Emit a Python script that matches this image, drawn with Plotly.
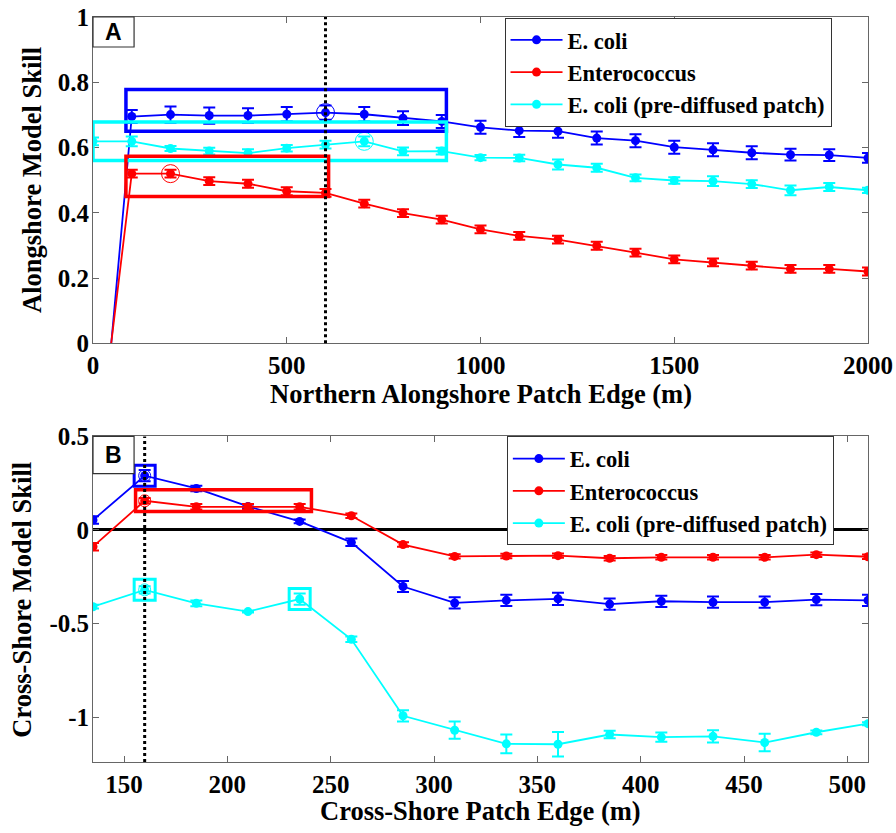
import plotly.graph_objects as go

# ---------------- data: panel A (alongshore) ----------------
xA = [0, 100, 200, 300, 400, 500, 600, 700, 800, 900, 1000,
      1100, 1200, 1300, 1400, 1500, 1600, 1700, 1800, 1900, 2000]
ecoliA = [-0.62, 0.695, 0.701, 0.698, 0.698, 0.702, 0.707, 0.702, 0.690, 0.680, 0.662,
          0.652, 0.650, 0.629, 0.621, 0.601, 0.593, 0.584, 0.578, 0.577, 0.568]
ecoliA_err = [0.02, 0.02, 0.025, 0.025, 0.022, 0.022, 0.022, 0.022, 0.021, 0.02, 0.02,
              0.02, 0.02, 0.02, 0.02, 0.02, 0.02, 0.02, 0.018, 0.018, 0.015]
enteroA = [-0.46, 0.520, 0.520, 0.497, 0.489, 0.466, 0.461, 0.428, 0.399, 0.379, 0.349,
           0.329, 0.318, 0.299, 0.278, 0.257, 0.248, 0.238, 0.228, 0.228, 0.220]
enteroA_err = [0.012] * 21
predifA = [0.619, 0.619, 0.597, 0.589, 0.583, 0.598, 0.609, 0.619, 0.588, 0.589, 0.569,
           0.568, 0.548, 0.538, 0.507, 0.499, 0.497, 0.488, 0.469, 0.479, 0.469]
predifA_err = [0.012, 0.015, 0.008, 0.01, 0.012, 0.01, 0.012, 0.015, 0.012, 0.01, 0.008,
               0.01, 0.015, 0.012, 0.01, 0.01, 0.015, 0.012, 0.015, 0.012, 0.008]

# ---------------- data: panel B (cross-shore) ----------------
xB = [135, 160, 185, 210, 235, 260, 285, 310, 335, 360, 385, 410, 435, 460, 485, 510]
ecoliB = [0.053, 0.290, 0.222, 0.126, 0.046, -0.066, -0.302, -0.390,
          -0.376, -0.368, -0.396, -0.381, -0.386, -0.386, -0.372, -0.376]
ecoliB_err = [0.02, 0.03, 0.015, 0.01, 0.01, 0.02, 0.03, 0.03,
              0.03, 0.033, 0.03, 0.03, 0.03, 0.03, 0.03, 0.03]
enteroB = [-0.089, 0.156, 0.124, 0.124, 0.124, 0.076, -0.078, -0.141,
           -0.139, -0.137, -0.151, -0.146, -0.146, -0.146, -0.132, -0.143]
enteroB_err = [0.02, 0.015, 0.015, 0.015, 0.015, 0.012, 0.012, 0.012,
               0.012, 0.012, 0.012, 0.012, 0.012, 0.012, 0.012, 0.012]
predifB = [-0.410, -0.320, -0.392, -0.436, -0.369, -0.584, -0.993, -1.070,
           -1.143, -1.145, -1.093, -1.107, -1.103, -1.136, -1.081, -1.035]
predifB_err = [0.01, 0.02, 0.015, 0.005, 0.03, 0.015, 0.03, 0.046,
               0.05, 0.065, 0.02, 0.025, 0.033, 0.047, 0.01, 0.008]

series_names = ["E. coli", "Enterococcus", "E. coli (pre-diffused patch)"]
colors = ["#0000FF", "#FF0000", "#00FFFF"]

# tick labels
yA_ticks = [0, 0.2, 0.4, 0.6, 0.8, 1]
yA_text = ["0", "0.2", "0.4", "0.6", "0.8", "1"]
xA_ticks = [0, 500, 1000, 1500, 2000]
yB_ticks = [0.5, 0, -0.5, -1]
yB_text = ["0.5", "0", "-0.5", "-1"]
xB_ticks = [150, 200, 250, 300, 350, 400, 450, 500]

# highlighted points / regions
best_x_A = 600
best_x_B = 160
circleA_idx = [6, 2, 7]          # ecoli, entero, prediffused
rectsA = [  # (x0, x1, y0, y1, series)
    (85, 912, 0.650, 0.778, 0),
    (0, 912, 0.560, 0.678, 2),
    (85, 608, 0.450, 0.573, 1),
]
rectB_entero = (155.6, 240.7, 0.099, 0.215)
squareB = [(0, 1), (2, 1), (2, 4)]  # (series, index)

font_family = "Times New Roman, Liberation Serif, serif"

fig = go.Figure()

seriesA = [(ecoliA, ecoliA_err), (enteroA, enteroA_err), (predifA, predifA_err)]
seriesB = [(ecoliB, ecoliB_err), (enteroB, enteroB_err), (predifB, predifB_err)]

for i, (ys, es) in enumerate(seriesA):
    fig.add_trace(go.Scatter(
        x=xA, y=ys, mode="lines+markers", name=series_names[i],
        line=dict(color=colors[i], width=1.8),
        marker=dict(color=colors[i], size=9),
        error_y=dict(type="data", array=es, color=colors[i], thickness=2, width=6),
        xaxis="x", yaxis="y", legend="legend"))

for i, (ys, es) in enumerate(seriesB):
    fig.add_trace(go.Scatter(
        x=xB, y=ys, mode="lines+markers", name=series_names[i],
        line=dict(color=colors[i], width=1.8),
        marker=dict(color=colors[i], size=9),
        error_y=dict(type="data", array=es, color=colors[i], thickness=2, width=6),
        xaxis="x2", yaxis="y2", legend="legend2"))

# open circles in A
for i, (ys, _) in enumerate(seriesA):
    k = circleA_idx[i]
    fig.add_trace(go.Scatter(
        x=[xA[k]], y=[ys[k]], mode="markers", showlegend=False,
        marker=dict(symbol="circle-open", size=18, color=colors[i], line=dict(width=1)),
        xaxis="x", yaxis="y"))

# open circles in B at best cross-shore edge
kB = xB.index(best_x_B)
for i, (ys, _) in enumerate(seriesB):
    fig.add_trace(go.Scatter(
        x=[xB[kB]], y=[ys[kB]], mode="markers", showlegend=False,
        marker=dict(symbol="circle-open", size=12, color=colors[i], line=dict(width=1)),
        xaxis="x2", yaxis="y2"))

# open squares in B
for s, k in squareB:
    fig.add_trace(go.Scatter(
        x=[xB[k]], y=[seriesB[s][0][k]], mode="markers", showlegend=False,
        marker=dict(symbol="square-open", size=21, color=colors[s], line=dict(width=3)),
        xaxis="x2", yaxis="y2"))

shapes = []
for x0, x1, y0, y1, s in rectsA:
    shapes.append(dict(type="rect", xref="x", yref="y", x0=x0, x1=x1, y0=y0, y1=y1,
                       line=dict(color=colors[s], width=3.5)))
shapes.append(dict(type="rect", xref="x2", yref="y2", x0=rectB_entero[0], x1=rectB_entero[1],
                   y0=rectB_entero[2], y1=rectB_entero[3], line=dict(color=colors[1], width=3.5)))
# dotted vertical lines
shapes.append(dict(type="line", xref="x", yref="y domain", x0=best_x_A, x1=best_x_A, y0=0, y1=1,
                   line=dict(color="black", width=3, dash="dot")))
shapes.append(dict(type="line", xref="x2", yref="y2 domain", x0=best_x_B, x1=best_x_B, y0=0, y1=1,
                   line=dict(color="black", width=3, dash="dot")))
# panel label boxes
shapes.append(dict(type="rect", xref="x domain", yref="y domain", x0=0, x1=0.053, y0=0.908, y1=1,
                   line=dict(color="#333", width=1.2), fillcolor="white"))
shapes.append(dict(type="rect", xref="x2 domain", yref="y2 domain", x0=0, x1=0.053, y0=0.886, y1=1,
                   line=dict(color="#333", width=1.2), fillcolor="white"))

titlefont = dict(family=font_family, size=26.5, color="black", weight="bold")
annotations = [
    dict(text="<b>A</b>", xref="x domain", yref="y domain", x=0.0265, y=0.954, showarrow=False,
         font=dict(family="Liberation Sans", size=23, color="black"), xanchor="center", yanchor="middle"),
    dict(text="<b>B</b>", xref="x2 domain", yref="y2 domain", x=0.0265, y=0.943, showarrow=False,
         font=dict(family="Liberation Sans", size=23, color="black"), xanchor="center", yanchor="middle"),
    # axis titles
    dict(text="<b>Northern Alongshore Patch Edge (m)</b>", xref="x domain", yref="y domain",
         x=0.5, y=-0.154, showarrow=False, font=titlefont, xanchor="center", yanchor="middle"),
    dict(text="<b>Alongshore Model Skill</b>", xref="paper", yref="y domain", textangle=-90,
         x=-0.079, y=0.5, showarrow=False, font=titlefont, xanchor="center", yanchor="middle"),
    dict(text="<b>Cross-Shore Patch Edge (m)</b>", xref="x2 domain", yref="y2 domain",
         x=0.5, y=-0.152, showarrow=False, font=titlefont, xanchor="center", yanchor="middle"),
    dict(text="<b>Cross-Shore Model Skill</b>", xref="paper", yref="y2 domain", textangle=-90,
         x=-0.091, y=0.5, showarrow=False, font=titlefont, xanchor="center", yanchor="middle"),
]

tickfont = dict(family=font_family, size=25, color="black", weight="bold")
axis_common = dict(showgrid=False, zeroline=False, showline=True, linecolor="#666", linewidth=1,
                   mirror="ticks", ticks="inside", ticklen=6, tickcolor="#666", tickfont=tickfont,
                   automargin=False)

legend_font = dict(family=font_family, size=22.5, color="black", weight="bold")

fig.update_layout(
    width=896, height=833,
    margin=dict(l=93.3, r=28, t=16.5, b=71.3),
    plot_bgcolor="white", paper_bgcolor="white",
    showlegend=True,
    xaxis=dict(domain=[0, 1], range=[0, 2000], anchor="y", tickvals=xA_ticks, **axis_common),
    yaxis=dict(domain=[0.562, 1], range=[0, 1], anchor="x", tickvals=yA_ticks, ticktext=yA_text,
               ticklabelstandoff=-2, **axis_common),
    xaxis2=dict(domain=[0, 1], range=[135, 510], anchor="y2", tickvals=xB_ticks, **axis_common),
    yaxis2=dict(domain=[0, 0.437], range=[-1.24, 0.5], anchor="x2", tickvals=yB_ticks, ticktext=yB_text,
                ticklabelstandoff=-2,
                **{**axis_common, "zeroline": True}, zerolinecolor="black", zerolinewidth=3),
    legend=dict(x=0.531, y=0.999, xanchor="left", yanchor="top", bgcolor="white",
                bordercolor="#333", borderwidth=1, font=legend_font,
                tracegroupgap=0, itemwidth=52),
    legend2=dict(x=0.534, y=0.437, xanchor="left", yanchor="top", bgcolor="white",
                 bordercolor="#333", borderwidth=1, font=legend_font,
                 tracegroupgap=0, itemwidth=52),
    shapes=shapes,
    annotations=annotations,
)

# remove the default 8px page margin so the figure sits at the window's top-left corner
fig.write_html("out.html", config={"displayModeBar": False},
               post_script="document.body.style.margin='0';")
